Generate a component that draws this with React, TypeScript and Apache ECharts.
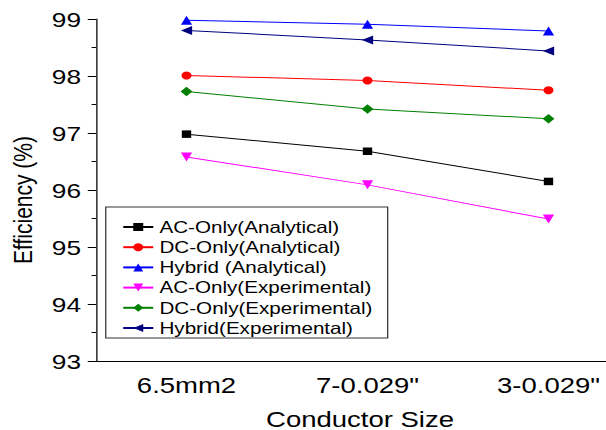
import React, { useEffect, useRef } from "react";
import * as echarts from "echarts";

const categories = ["6.5mm2", '7-0.029"', '3-0.029"'];
const acAnalytical = [96.98, 96.68, 96.15];
const dcAnalytical = [98.01, 97.92, 97.75];
const hybridAnalytical = [98.98, 98.91, 98.79];
const acExperimental = [96.58, 96.09, 95.49];
const dcExperimental = [97.73, 97.42, 97.25];
const hybridExperimental = [98.8, 98.63, 98.44];

const seriesNames = [
  "AC-Only(Analytical)",
  "DC-Only(Analytical)",
  "Hybrid (Analytical)",
  "AC-Only(Experimental)",
  "DC-Only(Experimental)",
  "Hybrid(Experimental)",
];

const SX = 1.25;
const W = 606 / SX;
const H = 430;
const FONT = "'Liberation Sans', Arial, sans-serif";

export default function App() {
  const ref = useRef<HTMLDivElement>(null);
  useEffect(() => {
    if (!ref.current) return;
    const chart = echarts.init(ref.current, null, { renderer: "svg" });
    const mk = (
      name: string,
      data: number[],
      color: string,
      symbol: string,
      size: number,
      rotate = 0
    ) => ({
      name,
      type: "line",
      data,
      symbol,
      symbolSize: size,
      symbolRotate: rotate,
      showSymbol: true,
      lineStyle: { color, width: 1 },
      itemStyle: { color },
      xAxisIndex: 0,
    });
    chart.setOption({
      animation: false,
      backgroundColor: "#ffffff",
      textStyle: { fontFamily: FONT },
      grid: {
        left: 76.8,
        width: 434.4,
        top: 19,
        bottom: 69,
        containLabel: false,
        outerBoundsMode: "none",
      },
      legend: {
        orient: "vertical",
        left: 84.6,
        top: 207,
        padding: [10, 12, 0, 13],
        itemGap: 0.2,
        itemWidth: 24,
        itemHeight: 10,
        borderColor: "#333",
        borderWidth: 1,
        backgroundColor: "#fff",
        textStyle: { fontSize: 16.5, lineHeight: 20, color: "#000", fontFamily: FONT },
        data: seriesNames,
      },
      xAxis: [
        {
          type: "category",
          data: categories,
          position: "bottom",
          boundaryGap: true,
          axisLine: { lineStyle: { color: "#000", width: 1 } },
          axisTick: { alignWithLabel: true, length: 6, lineStyle: { color: "#000" } },
          axisLabel: { fontSize: 22, color: "#000", margin: 13, fontFamily: FONT },
          splitLine: { show: false },
        },
        {
          type: "category",
          data: categories,
          position: "bottom",
          boundaryGap: true,
          axisLine: { show: false },
          axisTick: { alignWithLabel: false, length: 4, lineStyle: { color: "#000" } },
          axisLabel: { show: false },
          splitLine: { show: false },
        },
      ],
      yAxis: {
        type: "value",
        min: 93,
        max: 99,
        interval: 1,
        axisLine: { show: true, lineStyle: { color: "#000", width: 1 } },
        axisTick: { show: true, length: 6.6, lineStyle: { color: "#000" } },
        minorTick: { show: true, splitNumber: 2, length: 3.5, lineStyle: { color: "#000" } },
        axisLabel: { fontSize: 21, color: "#000", margin: 12, fontFamily: FONT },
        splitLine: { show: false },
      },
      graphic: [
        {
          type: "text",
          x: 18.4,
          y: 200,
          rotation: Math.PI / 2,
          style: {
            text: "Efficiency (%)",
            fontSize: 21,
            fontFamily: FONT,
            fill: "#000",
            align: "center",
            verticalAlign: "middle",
          },
        },
        {
          type: "text",
          x: 288,
          y: 419,
          style: {
            text: "Conductor Size",
            fontSize: 22,
            fontFamily: FONT,
            fill: "#000",
            align: "center",
            verticalAlign: "middle",
          },
        },
      ],
      series: [
        mk(seriesNames[0], acAnalytical, "#000000", "rect", 7.5),
        mk(seriesNames[1], dcAnalytical, "#ff0000", "circle", 8),
        mk(seriesNames[2], hybridAnalytical, "#0000ff", "triangle", 9),
        mk(seriesNames[3], acExperimental, "#ff00ff", "triangle", 9, 180),
        mk(seriesNames[4], dcExperimental, "#008000", "diamond", 9.5),
        mk(seriesNames[5], hybridExperimental, "#000080", "triangle", 9, 90),
      ],
    });
    return () => chart.dispose();
  }, []);
  return (
    <div
      style={{
        position: "fixed",
        left: 0,
        top: 0,
        width: 606,
        height: 430,
        overflow: "hidden",
        background: "#fff",
      }}
    >
      <div
        ref={ref}
        style={{
          width: W,
          height: H,
          transform: `scaleX(${SX})`,
          transformOrigin: "0 0",
        }}
      />
    </div>
  );
}
